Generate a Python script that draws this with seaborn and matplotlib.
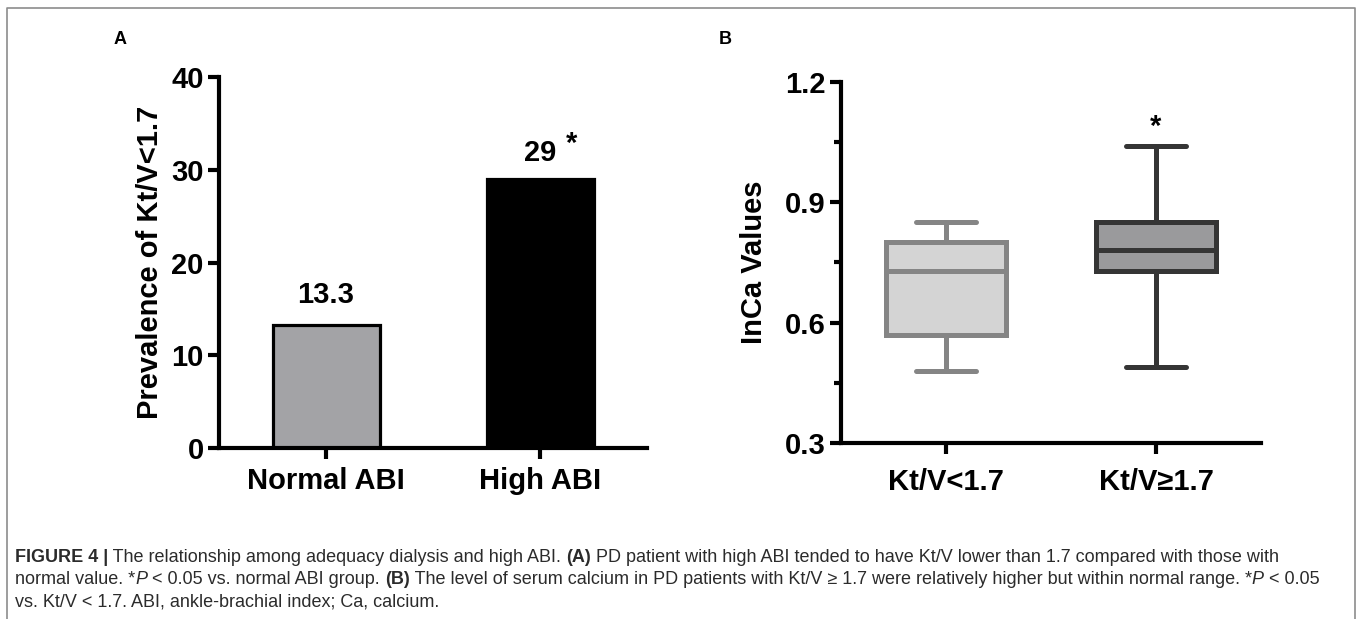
import pandas as pd
import numpy as np
import seaborn as sns
import matplotlib.pyplot as plt
from matplotlib.lines import Line2D

# panel A data
abi_groups = ["Normal ABI", "High ABI"]
prevalence = [13.3, 29]
bar_text = ["13.3", "29"]
bar_sig = ["", "*"]
bar_colors = ["#a3a3a7", "#000000"]

ktv_groups = ["Kt/V<1.7", "Kt/V\u22651.7"]
inca_low = [0.48, 0.57, 0.73, 0.80, 0.85]
inca_high = [0.49, 0.73, 0.78, 0.85, 1.04]
box_fill = ["#d4d4d4", "#9a9a9c"]
box_edge = ["#858585", "#353535"]
box_sig = ["", "*"]

sns.set_theme(style="ticks")
plt.rcParams['font.family'] = ['Liberation Sans', 'DejaVu Sans']
plt.rcParams['text.color'] = 'black'
plt.rcParams['axes.labelcolor'] = 'black'
plt.rcParams['xtick.color'] = 'black'
plt.rcParams['ytick.color'] = 'black'

W, H = 1358, 619
fig = plt.figure(figsize=(W / 100, H / 100), dpi=100)

def px_axes(l, t, r, b):
    return fig.add_axes([l / W, 1 - b / H, (r - l) / W, (b - t) / H])

# ---- panel A: bar chart ----
axA = px_axes(219, 77, 647, 448)
dfA = pd.DataFrame({"group": abi_groups, "value": prevalence})
sns.barplot(data=dfA, x="group", y="value", hue="group", palette=bar_colors,
            width=0.5, edgecolor="black", linewidth=2.3, legend=False, ax=axA)
axA.bar_label(axA.containers[0], labels=[bar_text[0]], padding=11,
              fontsize=21, fontweight="bold")
axA.bar_label(axA.containers[1], labels=[bar_text[1]], padding=9,
              fontsize=21, fontweight="bold")
for i, s in enumerate(bar_sig):
    if s:
        axA.annotate(s, xy=(i, prevalence[i]), xytext=(23, 15), textcoords="offset points",
                     ha="center", va="bottom", fontsize=21, fontweight="bold")
axA.set_ylim(0, 40)
axA.set_xlim(-0.5, 1.5)
axA.set_yticks([0, 10, 20, 30, 40])
axA.set_xlabel("")
axA.set_ylabel("Prevalence of Kt/V<1.7", fontsize=21, fontweight="bold", labelpad=5)

# ---- panel B: box plot ----
axB = px_axes(841, 82, 1261, 443)
dfB = pd.DataFrame({"group": [ktv_groups[0]] * len(inca_low) + [ktv_groups[1]] * len(inca_high),
                    "value": inca_low + inca_high})
for g, fc, ec in zip(ktv_groups, box_fill, box_edge):
    sns.boxplot(data=dfB[dfB["group"] == g], x="group", y="value", order=ktv_groups,
                color=fc, linecolor=ec, linewidth=3.6, width=0.57, whis=(0, 100),
                fliersize=0, ax=axB)
# keep the fill colours exactly as in the figure
for p, fc in zip(axB.patches, box_fill):
    p.set_facecolor(fc)
for i, s in enumerate(box_sig):
    if s:
        top = max(inca_high)
        axB.annotate(s, xy=(i, top), xytext=(0, 4), textcoords="offset points",
                     ha="center", va="bottom", fontsize=21, fontweight="bold")
axB.set_ylim(0.3, 1.2)
axB.set_xlim(-0.5, 1.5)
axB.set_yticks([0.3, 0.6, 0.9, 1.2])
axB.set_yticks([0.45, 0.75, 1.05], minor=True)
axB.set_xlabel("")
axB.set_ylabel("InCa Values", fontsize=21, fontweight="bold", labelpad=12)

for ax in (axA, axB):
    sns.despine(ax=ax)
    ax.set_facecolor("white")
    for sp in ("left", "bottom"):
        ax.spines[sp].set_linewidth(3)
        ax.spines[sp].set_color("black")
    ax.tick_params(axis="both", which="major", length=8, width=3, color="black",
                   labelsize=21, pad=3, labelcolor="black")
    ax.tick_params(axis="both", which="minor", length=5, width=3, color="black")
    for lab in ax.get_xticklabels() + ax.get_yticklabels():
        lab.set_fontweight("bold")
axA.tick_params(axis="x", pad=6)
axB.tick_params(axis="x", pad=10)
axA.set_yticklabels(["0", "10", "20", "30", "40"])
axB.set_yticklabels(["0.3", "0.6", "0.9", "1.2"])

# panel letters
fig.text(120 / W, 1 - 40 / H, "A", fontsize=13, fontweight="bold", ha="center", va="center")
fig.text(725 / W, 1 - 39 / H, "B", fontsize=13, fontweight="bold", ha="center", va="center")

# outer frame (left, top, right)
frame = Line2D([7 / W, 7 / W, 1355 / W, 1355 / W], [0, 1 - 8 / H, 1 - 8 / H, 0],
               transform=fig.transFigure, color="#8c8c8c", linewidth=1.2)
fig.add_artist(frame)

# caption with mixed styles
caption = [
    [("FIGURE 4 |", "bold", "normal"),
     (" The relationship among adequacy dialysis and high ABI. ", "normal", "normal"),
     ("(A)", "bold", "normal"),
     (" PD patient with high ABI tended to have Kt/V lower than 1.7 compared with those with", "normal", "normal")],
    [("normal value. *", "normal", "normal"), ("P", "normal", "italic"),
     (" < 0.05 vs. normal ABI group. ", "normal", "normal"), ("(B)", "bold", "normal"),
     (" The level of serum calcium in PD patients with Kt/V \u2265 1.7 were relatively higher but within normal range. *",
      "normal", "normal"),
     ("P", "normal", "italic"), (" < 0.05", "normal", "normal")],
    [("vs. Kt/V < 1.7. ABI, ankle-brachial index; Ca, calcium.", "normal", "normal")],
]
line_y = [558, 580, 602]
cap_size = 13
renderer = fig.canvas.get_renderer()

def run_width(s, weight, style):
    t1 = fig.text(0, 0, s + "|", fontsize=cap_size, fontweight=weight, fontstyle=style)
    t2 = fig.text(0, 0, "|", fontsize=cap_size, fontweight=weight, fontstyle=style)
    w = t1.get_window_extent(renderer).width - t2.get_window_extent(renderer).width
    t1.remove()
    t2.remove()
    return w

for runs, y in zip(caption, line_y):
    x = 15
    for s, weight, style in runs:
        fig.text(x / W, 1 - y / H, s, fontsize=cap_size, fontweight=weight, fontstyle=style,
                 color="#2b2b2b", va="center", ha="left")
        x += run_width(s, weight, style)

plt.savefig("out.png", dpi=100)
plt.close()
